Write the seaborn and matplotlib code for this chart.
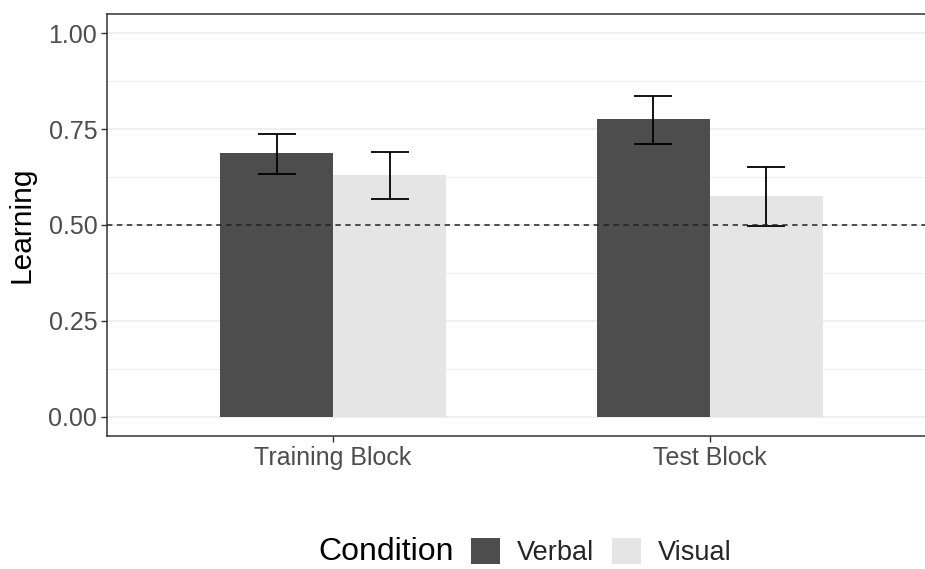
import numpy as np
import pandas as pd
import matplotlib
matplotlib.use("Agg")
import matplotlib.pyplot as plt
from matplotlib.patches import Patch
from matplotlib.ticker import MultipleLocator
import seaborn as sns

# ---- data ----
blocks = ["Training Block", "Test Block"]
conditions = ["Verbal", "Visual"]
verbal_mean = [0.688, 0.776]
visual_mean = [0.631, 0.575]
verbal_lo = [0.634, 0.711]
verbal_hi = [0.737, 0.837]
visual_lo = [0.568, 0.497]
visual_hi = [0.690, 0.652]
y_ticks = [0.00, 0.25, 0.50, 0.75, 1.00]
y_tick_labels = ["0.00", "0.25", "0.50", "0.75", "1.00"]
chance = 0.5

colors = {"Verbal": "#4D4D4D", "Visual": "#E5E5E5"}

df = pd.DataFrame({
    "Block": blocks * 2,
    "Condition": ["Verbal"] * 2 + ["Visual"] * 2,
    "Learning": verbal_mean + visual_mean,
    "lo": verbal_lo + visual_lo,
    "hi": verbal_hi + visual_hi,
})

sns.set_theme(style="white")
plt.rcParams["font.family"] = ["Liberation Sans", "DejaVu Sans"]

fig = plt.figure(figsize=(9.25, 5.69), dpi=100)
# panel extends past the right edge of the image (as in the reference crop)
ax = fig.add_axes([107 / 925, 1 - 436 / 569, (936 - 107) / 925, (436 - 14) / 569])

ax.set_axisbelow(True)
ax.yaxis.set_major_locator(MultipleLocator(0.25))
ax.yaxis.set_minor_locator(MultipleLocator(0.125))
ax.grid(which="major", axis="both", color="#EBEBEB", linewidth=1.1)
ax.grid(which="minor", axis="y", color="#EBEBEB", linewidth=0.6)

sns.barplot(data=df, x="Block", y="Learning", hue="Condition",
            order=blocks, hue_order=conditions, palette=colors,
            width=0.6, errorbar=None, saturation=1, ax=ax,
            linewidth=0, legend=False)

for cont, cond in zip(ax.containers, conditions):
    sub = df[df["Condition"] == cond].set_index("Block").loc[blocks]
    xs = [b.get_x() + b.get_width() / 2 for b in cont]
    means = sub["Learning"].values
    yerr = np.vstack([means - sub["lo"].values, sub["hi"].values - means])
    ax.errorbar(xs, means, yerr=yerr, fmt="none", ecolor="black",
                elinewidth=1.3, capsize=13.5, capthick=1.3, zorder=5)

ax.axhline(chance, color="#222222", linestyle=(0, (3.5, 3.0)), linewidth=1.1, zorder=6)

ax.set_xlim(-0.6, 1.6)
ax.set_ylim(-0.05, 1.05)
ax.set_yticks(y_ticks)
ax.set_yticklabels(y_tick_labels)
ax.set_xlabel("")
ax.set_ylabel("Learning", fontsize=21.5, color="black", labelpad=9)

ax.tick_params(axis="both", which="major", labelsize=18, colors="#333333",
               labelcolor="#4D4D4D", length=4, width=1.0, direction="out",
               left=True, bottom=True)
ax.tick_params(axis="y", which="minor", length=0)
ax.tick_params(axis="x", pad=3)
ax.tick_params(axis="y", pad=3)

for s in ax.spines.values():
    s.set_visible(True)
    s.set_color("#333333")
    s.set_linewidth(1.1)

# legend
fig.text(318 / 925, 1 - 552 / 569, "Condition", fontsize=23, color="black",
         ha="left", va="center")
handles = [Patch(facecolor=colors[c], edgecolor="none", label=c) for c in conditions]
fig.legend(handles=handles, loc="center left", bbox_to_anchor=(471 / 925, 1 - 552 / 569),
           ncol=2, frameon=False, fontsize=19.5, handlelength=1.08, handleheight=1.08,
           handletextpad=0.63, columnspacing=0.63, borderpad=0, borderaxespad=0)

fig.savefig("out.png", dpi=100)
